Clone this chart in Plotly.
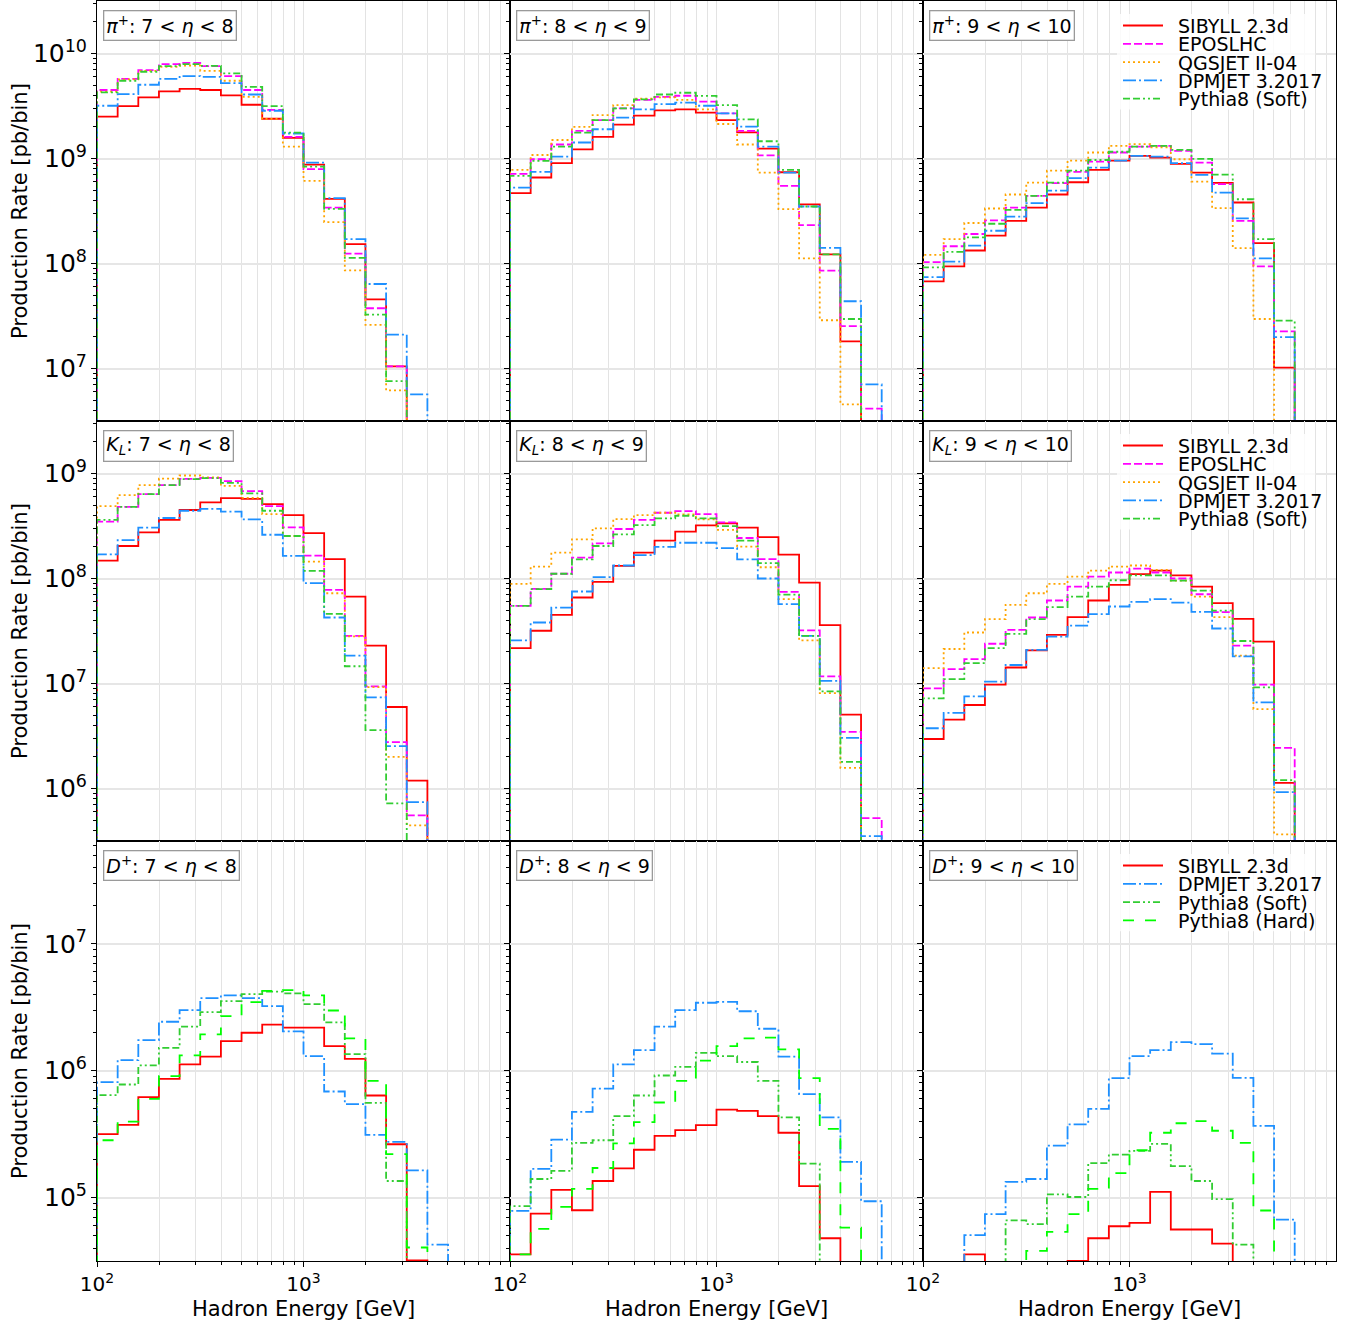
import plotly.graph_objects as go
from plotly.subplots import make_subplots

# ---------------- data ----------------
ENERGY_EDGES_GEV = [100.0, 125.9, 158.5, 199.5, 251.2, 316.2, 398.1, 501.2, 631.0, 794.3,
                    1000.0, 1258.9, 1584.9, 1995.3, 2511.9, 3162.3, 3981.1, 5011.9, 6309.6,
                    7943.3, 10000.0]

LIGHT_MODELS = ["SIBYLL 2.3d", "EPOSLHC", "QGSJET II-04", "DPMJET 3.2017", "Pythia8 (Soft)"]
CHARM_MODELS = ["SIBYLL 2.3d", "DPMJET 3.2017", "Pythia8 (Soft)", "Pythia8 (Hard)"]
HADRON_LABELS = ["<i>π</i><sup>+</sup>", "<i>K</i><sub><i>L</i></sub>", "<i>D</i><sup>+</sup>"]
ETA_LABELS = ["7 &lt; <i>η</i> &lt; 8", "8 &lt; <i>η</i> &lt; 9", "9 &lt; <i>η</i> &lt; 10"]
X_TICK_VALUES = [100, 1000]
X_TICK_TEXT = ["10<sup>2</sup>", "10<sup>3</sup>"]

# pi+ , 7 < eta < 8
pi_7_sib = [2.50e9, 3.16e9, 3.82e9, 4.36e9, 4.61e9, 4.49e9, 3.99e9, 3.25e9, 2.39e9, 1.57e9, 8.75e8, 4.13e8, 1.53e8, 4.56e7, 1.05e7, 0, 0, 0, 0, 0]
pi_7_epos = [4.49e9, 5.74e9, 6.95e9, 7.93e9, 8.15e9, 7.59e9, 6.10e9, 4.49e9, 2.90e9, 1.61e9, 7.91e8, 3.41e8, 1.24e8, 3.75e7, 1.05e7, 0, 0, 0, 0, 0]
pi_7_qgs = [4.33e9, 5.66e9, 6.84e9, 7.46e9, 7.69e9, 6.84e9, 5.50e9, 3.87e9, 2.38e9, 1.30e9, 6.12e8, 2.48e8, 8.61e7, 2.60e7, 6.18e6, 0, 0, 0, 0, 0]
pi_7_dpm = [3.18e9, 4.11e9, 5.04e9, 5.74e9, 6.10e9, 6.00e9, 5.22e9, 4.07e9, 2.85e9, 1.73e9, 9.14e8, 4.19e8, 1.71e8, 6.38e7, 2.10e7, 5.66e6, 0, 0, 0, 0]
pi_7_pys = [4.26e9, 5.50e9, 6.70e9, 7.59e9, 7.93e9, 7.64e9, 6.46e9, 4.82e9, 3.16e9, 1.76e9, 8.38e8, 3.32e8, 1.13e8, 3.26e7, 7.59e6, 0, 0, 0, 0, 0]

# pi+ , 8 < eta < 9
pi_8_sib = [4.68e8, 6.59e8, 9.02e8, 1.22e9, 1.61e9, 2.10e9, 2.56e9, 2.87e9, 2.94e9, 2.73e9, 2.32e9, 1.77e9, 1.24e9, 7.40e8, 3.65e8, 1.22e8, 1.81e7, 0, 0, 0]
pi_8_epos = [7.13e8, 9.84e8, 1.36e9, 1.83e9, 2.32e9, 3.00e9, 3.61e9, 3.87e9, 3.96e9, 3.48e9, 2.69e9, 1.83e9, 1.07e9, 5.48e8, 2.32e8, 8.55e7, 2.53e7, 4.14e6, 0, 0]
pi_8_qgs = [7.78e8, 1.08e9, 1.50e9, 2.00e9, 2.59e9, 3.23e9, 3.71e9, 3.82e9, 3.61e9, 2.94e9, 2.13e9, 1.36e9, 7.35e8, 3.30e8, 1.12e8, 2.88e7, 4.55e6, 0, 0, 0]
pi_8_dpm = [5.28e8, 7.45e8, 1.04e9, 1.42e9, 1.90e9, 2.45e9, 2.94e9, 3.30e9, 3.40e9, 3.18e9, 2.69e9, 2.01e9, 1.30e9, 7.35e8, 3.49e8, 1.41e8, 4.37e7, 7.05e6, 0, 0]
pi_8_pys = [6.82e8, 9.48e8, 1.30e9, 1.76e9, 2.32e9, 3.00e9, 3.66e9, 4.07e9, 4.23e9, 3.94e9, 3.23e9, 2.36e9, 1.46e9, 7.78e8, 3.49e8, 1.22e8, 2.96e7, 0, 0, 0]

# pi+ , 9 < eta < 10
pi_9_sib = [6.76e7, 9.40e7, 1.33e8, 1.84e8, 2.55e8, 3.41e8, 4.54e8, 5.94e8, 7.78e8, 9.55e8, 1.06e9, 1.02e9, 8.87e8, 7.35e8, 5.86e8, 3.81e8, 1.56e8, 1.02e7, 0, 0]
pi_9_epos = [1.03e8, 1.46e8, 1.91e8, 2.57e8, 3.41e8, 4.41e8, 5.82e8, 7.45e8, 9.35e8, 1.14e9, 1.30e9, 1.32e9, 1.18e9, 9.14e8, 5.69e8, 2.55e8, 9.40e7, 2.26e7, 0, 0]
pi_9_qgs = [1.21e8, 1.71e8, 2.43e8, 3.34e8, 4.54e8, 5.90e8, 7.67e8, 9.55e8, 1.14e9, 1.32e9, 1.37e9, 1.28e9, 9.84e8, 6.03e8, 3.37e8, 1.40e8, 2.96e7, 0, 0, 0]
pi_9_dpm = [7.43e7, 1.04e8, 1.48e8, 2.05e8, 2.79e8, 3.76e8, 4.95e8, 6.49e8, 8.20e8, 9.55e8, 1.06e9, 1.04e9, 9.02e8, 6.98e8, 4.74e8, 2.69e8, 1.12e8, 1.99e7, 0, 0]
pi_9_pys = [9.18e7, 1.29e8, 1.77e8, 2.39e8, 3.24e8, 4.41e8, 5.90e8, 7.67e8, 9.68e8, 1.16e9, 1.30e9, 1.32e9, 1.21e9, 9.91e8, 7.03e8, 4.09e8, 1.71e8, 2.86e7, 0, 0]

# K_L , 7 < eta < 8
kl_7_sib = [1.48e8, 2.04e8, 2.75e8, 3.61e8, 4.49e8, 5.30e8, 5.83e8, 5.74e8, 5.12e8, 4.02e8, 2.71e8, 1.53e8, 6.73e7, 2.29e7, 5.97e6, 1.19e6, 0, 0, 0, 0]
kl_7_epos = [3.48e8, 4.82e8, 6.37e8, 7.74e8, 8.89e8, 9.10e8, 8.45e8, 6.79e8, 4.90e8, 3.07e8, 1.65e8, 7.78e7, 2.84e7, 9.40e6, 2.76e6, 5.55e5, 0, 0, 0, 0]
kl_7_qgs = [4.90e8, 6.22e8, 7.74e8, 8.95e8, 9.57e8, 9.16e8, 7.64e8, 5.87e8, 4.11e8, 2.54e8, 1.45e8, 7.24e7, 2.81e7, 9.25e6, 2.00e6, 4.46e5, 0, 0, 0, 0]
kl_7_dpm = [1.70e8, 2.32e8, 3.05e8, 3.77e8, 4.42e8, 4.61e8, 4.33e8, 3.66e8, 2.61e8, 1.64e8, 9.02e7, 4.25e7, 1.84e7, 7.38e6, 2.53e6, 7.41e5, 0, 0, 0, 0]
kl_7_pys = [3.61e8, 4.82e8, 6.37e8, 7.74e8, 8.83e8, 9.04e8, 8.15e8, 6.46e8, 4.42e8, 2.54e8, 1.18e8, 4.60e7, 1.46e7, 3.59e6, 7.21e5, 0, 0, 0, 0, 0]

# K_L , 8 < eta < 9
kl_8_sib = [2.17e7, 3.18e7, 4.51e7, 6.59e7, 9.27e7, 1.32e8, 1.76e8, 2.29e8, 2.79e8, 3.21e8, 3.35e8, 3.05e8, 2.48e8, 1.69e8, 9.14e7, 3.60e7, 5.06e6, 0, 0, 0]
kl_8_epos = [5.48e7, 7.96e7, 1.11e8, 1.58e8, 2.16e8, 2.96e8, 3.61e8, 4.23e8, 4.39e8, 4.11e8, 3.42e8, 2.43e8, 1.53e8, 7.45e7, 3.20e7, 1.17e7, 3.46e6, 5.22e5, 0, 0]
kl_8_qgs = [8.87e7, 1.30e8, 1.76e8, 2.36e8, 3.00e8, 3.68e8, 4.02e8, 4.23e8, 4.07e8, 3.66e8, 2.90e8, 2.01e8, 1.28e8, 6.35e7, 2.57e7, 8.11e6, 1.57e6, 0, 0, 0]
kl_8_dpm = [2.57e7, 3.81e7, 5.28e7, 7.52e7, 1.03e8, 1.33e8, 1.67e8, 2.00e8, 2.19e8, 2.19e8, 1.95e8, 1.52e8, 1.00e8, 5.69e7, 2.84e7, 1.06e7, 3.03e6, 3.52e5, 0, 0]
kl_8_pys = [5.48e7, 7.91e7, 1.11e8, 1.52e8, 2.04e8, 2.63e8, 3.23e8, 3.73e8, 3.96e8, 3.73e8, 3.16e8, 2.29e8, 1.40e8, 7.03e7, 2.84e7, 8.41e6, 1.79e6, 0, 0, 0]

# K_L , 9 < eta < 10
kl_9_sib = [2.96e6, 4.53e6, 6.24e6, 9.75e6, 1.42e7, 2.07e7, 2.91e7, 4.29e7, 6.17e7, 8.69e7, 1.10e8, 1.19e8, 1.07e8, 8.38e7, 5.82e7, 4.13e7, 2.51e7, 1.13e6, 0, 0]
kl_9_epos = [8.99e6, 1.37e7, 1.71e7, 2.39e7, 3.24e7, 4.25e7, 6.17e7, 8.38e7, 1.04e8, 1.14e8, 1.24e8, 1.14e8, 1.00e8, 7.08e7, 4.78e7, 2.29e7, 9.75e6, 2.44e6, 0, 0]
kl_9_qgs = [1.40e7, 2.13e7, 3.06e7, 4.10e7, 5.61e7, 7.24e7, 8.87e7, 1.04e8, 1.19e8, 1.30e8, 1.33e8, 1.21e8, 9.55e7, 6.73e7, 4.29e7, 1.84e7, 5.71e6, 3.66e5, 0, 0]
kl_9_dpm = [3.75e6, 5.24e6, 7.55e6, 1.04e7, 1.50e7, 2.09e7, 2.79e7, 3.56e7, 4.57e7, 5.41e7, 5.98e7, 6.35e7, 5.90e7, 4.81e7, 3.34e7, 1.81e7, 6.62e6, 9.23e5, 0, 0]
kl_9_pys = [7.23e6, 1.10e7, 1.56e7, 2.17e7, 2.97e7, 4.10e7, 5.33e7, 6.73e7, 8.38e7, 9.62e7, 1.07e8, 1.07e8, 9.55e7, 7.67e7, 4.95e7, 2.54e7, 9.18e6, 1.20e6, 0, 0]

# D+ , 7 < eta < 8
dp_7_sib = [3.16e5, 3.74e5, 6.18e5, 8.63e5, 1.12e6, 1.29e6, 1.71e6, 1.99e6, 2.31e6, 2.18e6, 2.18e6, 1.56e6, 1.24e6, 6.37e5, 2.63e5, 3.2e4, 0, 0, 0, 0]
dp_7_dpm = [8.11e5, 1.21e6, 1.74e6, 2.43e6, 3.00e6, 3.73e6, 3.92e6, 3.73e6, 3.23e6, 2.04e6, 1.30e6, 6.85e5, 5.45e5, 3.12e5, 2.75e5, 1.64e5, 4.26e4, 0, 0, 0]
dp_7_pys = [6.41e5, 7.78e5, 1.10e6, 1.51e6, 2.22e6, 2.89e6, 3.53e6, 4.01e6, 4.19e6, 4.06e6, 3.34e6, 2.40e6, 1.35e6, 5.57e5, 1.35e5, 0, 0, 0, 0, 0]
dp_7_pyh = [2.83e5, 3.97e5, 6.00e5, 9.06e5, 1.32e6, 1.93e6, 2.69e6, 3.47e6, 4.26e6, 4.32e6, 3.92e6, 2.98e6, 1.80e6, 8.32e5, 2.20e5, 4.04e4, 0, 0, 0, 0]

# D+ , 8 < eta < 9
dp_8_sib = [3.57e4, 7.48e4, 1.15e5, 7.94e4, 1.35e5, 1.70e5, 2.38e5, 3.06e5, 3.40e5, 3.72e5, 4.94e5, 4.82e5, 4.38e5, 3.24e5, 1.23e5, 4.78e4, 0, 0, 0, 0]
dp_8_dpm = [7.85e4, 1.68e5, 2.86e5, 4.73e5, 7.23e5, 1.12e6, 1.45e6, 2.22e6, 3.00e6, 3.43e6, 3.49e6, 2.94e6, 2.14e6, 1.29e6, 6.53e5, 4.28e5, 1.91e5, 9.35e4, 0, 0]
dp_8_pys = [8.55e4, 1.40e5, 1.62e5, 2.70e5, 2.83e5, 4.38e5, 6.37e5, 9.16e5, 1.07e6, 1.38e6, 1.30e6, 1.17e6, 8.32e5, 4.28e5, 1.85e5, 0, 0, 0, 0, 0]
dp_8_pyh = [3.57e4, 5.66e4, 8.43e4, 1.17e5, 1.71e5, 2.67e5, 3.93e5, 5.61e5, 8.32e5, 1.20e6, 1.56e6, 1.80e6, 1.82e6, 1.47e6, 8.73e5, 3.48e5, 5.79e4, 0, 0, 0]

# D+ , 9 < eta < 10
dp_9_sib = [0, 0, 3.56e4, 0, 0, 0, 0, 3.17e4, 4.78e4, 5.94e4, 6.31e4, 1.11e5, 5.60e4, 5.60e4, 4.34e4, 0, 0, 0, 0, 0]
dp_9_dpm = [0, 0, 5.05e4, 7.40e4, 1.33e5, 1.40e5, 2.57e5, 3.78e5, 5.00e5, 8.73e5, 1.30e6, 1.45e6, 1.68e6, 1.62e6, 1.36e6, 8.77e5, 3.67e5, 6.71e4, 0, 0]
dp_9_pys = [0, 0, 0, 0, 6.62e4, 6.17e4, 1.06e5, 1.01e5, 1.87e5, 2.18e5, 2.33e5, 2.65e5, 1.77e5, 1.35e5, 9.71e4, 4.26e4, 0, 0, 0, 0]
dp_9_pyh = [0, 0, 0, 0, 0, 3.80e4, 5.36e4, 7.40e4, 1.17e5, 1.56e5, 2.36e5, 3.24e5, 3.85e5, 4.00e5, 3.36e5, 2.70e5, 7.91e4, 0, 0, 0]

PANEL_SERIES = [
    [[pi_7_sib, pi_7_epos, pi_7_qgs, pi_7_dpm, pi_7_pys],
     [pi_8_sib, pi_8_epos, pi_8_qgs, pi_8_dpm, pi_8_pys],
     [pi_9_sib, pi_9_epos, pi_9_qgs, pi_9_dpm, pi_9_pys]],
    [[kl_7_sib, kl_7_epos, kl_7_qgs, kl_7_dpm, kl_7_pys],
     [kl_8_sib, kl_8_epos, kl_8_qgs, kl_8_dpm, kl_8_pys],
     [kl_9_sib, kl_9_epos, kl_9_qgs, kl_9_dpm, kl_9_pys]],
    [[dp_7_sib, dp_7_dpm, dp_7_pys, dp_7_pyh],
     [dp_8_sib, dp_8_dpm, dp_8_pys, dp_8_pyh],
     [dp_9_sib, dp_9_dpm, dp_9_pys, dp_9_pyh]],
]
ROW_MODELS = [LIGHT_MODELS, LIGHT_MODELS, CHARM_MODELS]

# ---------------- styling ----------------
STYLE = {
    "SIBYLL 2.3d": dict(color="#ff0000", dash="solid"),
    "EPOSLHC": dict(color="#ff00ff", dash="8px,3px"),
    "QGSJET II-04": dict(color="#ffa500", dash="2px,3px"),
    "DPMJET 3.2017": dict(color="#1e90ff", dash="13px,3px,2px,3px"),
    "Pythia8 (Soft)": dict(color="#32cd32", dash="7px,3px,7px,3px,2px,3px,2px,3px"),
    "Pythia8 (Hard)": dict(color="#00ff00", dash="11px,11px"),
}
LINE_W = 1.8
ROW_YRANGE = [[6.5, 10.5], [5.5, 9.5], [4.5, 7.81]]
FONT = "DejaVu Sans"

W, H = 1363, 1328
ML, MR, MT, MB = 97, 27, 1, 67
PW, PH = W - ML - MR, H - MT - MB
COLW, ROWH = PW / 3.0, PH / 3.0


def px_x(px):
    return (px - ML) / PW


def px_y(py):
    return 1 - (py - MT) / PH


def step_xy(vals):
    floor = 1e-3
    v = [val if val > 0 else floor for val in vals]
    xs = [ENERGY_EDGES_GEV[0]] + ENERGY_EDGES_GEV[:-1] + [ENERGY_EDGES_GEV[-1], ENERGY_EDGES_GEV[-1]]
    ys = [floor] + v + [v[-1], floor]
    return xs, ys


fig = make_subplots(rows=3, cols=3, horizontal_spacing=0, vertical_spacing=0)

for r in range(3):
    for c in range(3):
        for name, vals in zip(ROW_MODELS[r], PANEL_SERIES[r][c]):
            xs, ys = step_xy(vals)
            st = STYLE[name]
            fig.add_trace(go.Scatter(x=xs, y=ys, mode="lines", line_shape="hv", name=name,
                                     line=dict(color=st["color"], dash=st["dash"], width=LINE_W),
                                     showlegend=False, hoverinfo="skip"),
                          row=r + 1, col=c + 1)

MINOR_X = [m * 10 ** k for k in (2, 3) for m in range(2, 10)]
for r in range(3):
    for c in range(3):
        bottom = r == 2
        fig.update_xaxes(type="log", range=[2, 4], showline=True, mirror=True, linecolor="black",
                         linewidth=1, tickmode="array", tickvals=X_TICK_VALUES, ticktext=X_TICK_TEXT,
                         showticklabels=bottom, ticks="outside" if bottom else "", ticklen=5,
                         tickcolor="black", showgrid=True, gridcolor="#e3e3e3", gridwidth=1.2,
                         tickfont=dict(family=FONT, size=20, color="black"),
                         minor=dict(tickmode="array", tickvals=MINOR_X, showgrid=True,
                                    gridcolor="#e3e3e3", gridwidth=1,
                                    ticks="outside" if bottom else "", ticklen=3, tickcolor="black"),
                         zeroline=False, row=r + 1, col=c + 1)
        fig.update_yaxes(type="log", range=ROW_YRANGE[r], showline=True, mirror=True, linecolor="black",
                         linewidth=1, dtick=1, exponentformat="power", showticklabels=(c == 0),
                         ticks="outside", ticklen=5, tickcolor="black", showgrid=True,
                         gridcolor="#e6e6e6", gridwidth=1.5,
                         tickfont=dict(family=FONT, size=20, color="black"),
                         minor=dict(dtick="D1", ticks="outside", ticklen=3, tickcolor="black", showgrid=False),
                         zeroline=False, row=r + 1, col=c + 1)

annotations = []
shapes = []

# panel labels
for r in range(3):
    for c in range(3):
        left = ML + c * COLW
        top = MT + r * ROWH
        annotations.append(dict(
            text=f"{HADRON_LABELS[r]}: {ETA_LABELS[c]}", xref="paper", yref="paper",
            x=px_x(left + 6), y=px_y(top + 9), xanchor="left", yanchor="top", showarrow=False,
            font=dict(family=FONT, size=19, color="black"), bgcolor="white",
            bordercolor="#9a9a9a", borderwidth=1.3, borderpad=2))

# axis titles
for r in range(3):
    cy = MT + r * ROWH + ROWH / 2
    annotations.append(dict(text="Production Rate [pb/bin]", xref="paper", yref="paper",
                            x=px_x(20), y=px_y(cy), xanchor="center", yanchor="middle",
                            textangle=-90, showarrow=False,
                            font=dict(family=FONT, size=21, color="black")))
for c in range(3):
    cx = ML + c * COLW + COLW / 2
    annotations.append(dict(text="Hadron Energy [GeV]", xref="paper", yref="paper",
                            x=px_x(cx), y=px_y(1309), xanchor="center", yanchor="middle",
                            showarrow=False, font=dict(family=FONT, size=21, color="black")))

# legends (right column of every row)
for r in range(3):
    top = MT + r * ROWH
    models = ROW_MODELS[r]
    n = len(models)
    shapes.append(dict(type="rect", xref="paper", yref="paper",
                       x0=px_x(1117), x1=px_x(1315), y0=px_y(top + 13), y1=px_y(top + 17 + 18.3 * n),
                       fillcolor="rgba(255,255,255,0.8)", line=dict(width=0), layer="above"))
    for i, name in enumerate(models):
        yc = top + 24.5 + 18.3 * i
        st = STYLE[name]
        shapes.append(dict(type="line", xref="paper", yref="paper",
                           x0=px_x(1123), x1=px_x(1163), y0=px_y(yc), y1=px_y(yc),
                           line=dict(color=st["color"], dash=st["dash"], width=LINE_W), layer="above"))
        annotations.append(dict(text=name, xref="paper", yref="paper", x=px_x(1176), y=px_y(yc + 0.5),
                                xanchor="left", yanchor="middle", showarrow=False,
                                font=dict(family=FONT, size=19, color="black")))

fig.update_layout(width=W, height=H, margin=dict(l=ML, r=MR, t=MT, b=MB, autoexpand=False),
                  plot_bgcolor="white", paper_bgcolor="white", showlegend=False,
                  annotations=annotations, shapes=shapes, font=dict(family=FONT))

fig.write_html("out.html", config={"displayModeBar": False},
               post_script="document.body.style.margin='0px';document.body.style.overflow='hidden';")
